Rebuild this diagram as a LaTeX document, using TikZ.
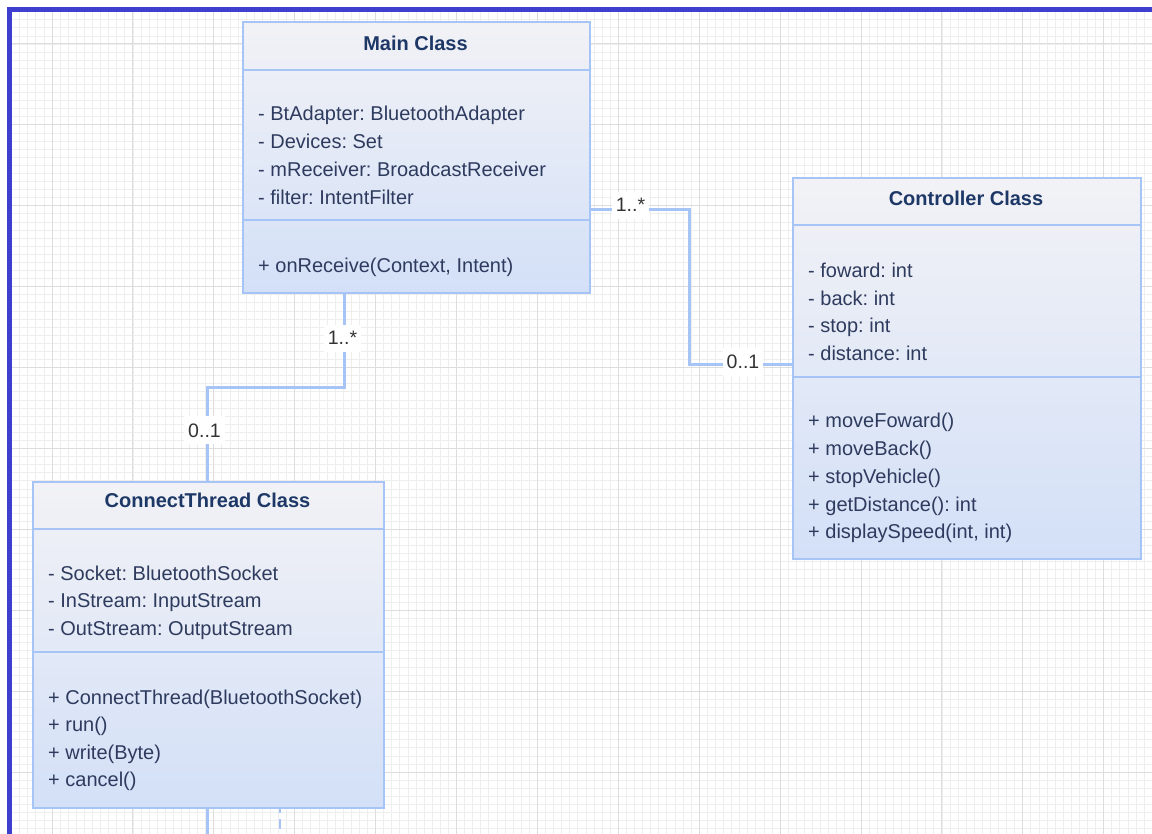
\documentclass[tikz,border=0pt]{standalone}
\usepackage{fontspec}
\setmainfont{Liberation Sans}
\usetikzlibrary{calc}
\frenchspacing

\definecolor{frameblue}{HTML}{3F3FCF}
\definecolor{gridminor}{HTML}{EEEEEE}
\definecolor{gridmajor}{HTML}{DDDDDD}
\definecolor{boxedge}{HTML}{A6C4F6}
\definecolor{boxtop}{HTML}{F2F2F6}
\definecolor{boxbottom}{HTML}{D3E0F7}
\definecolor{titletext}{HTML}{1D3866}
\definecolor{bodytext}{HTML}{2E3B5E}
\definecolor{multtext}{HTML}{333333}

\begin{document}
\begin{tikzpicture}[x=1pt,y=-1pt,
  classbox/.style={draw=boxedge, line width=2.4pt, top color=boxtop, bottom color=boxbottom,
    anchor=north west, inner sep=0pt},
  sepline/.style={draw=boxedge, line width=2.4pt},
  classtitle/.style={anchor=base, text=titletext, inner sep=0pt,
    font=\fontsize{20}{24}\selectfont\bfseries},
  member/.style={anchor=base west, text=bodytext, inner sep=0pt,
    font=\fontsize{20}{24}\selectfont},
  assoc/.style={draw=boxedge, line width=2.8pt},
  mult/.style={anchor=base, fill=white, text=multtext, inner xsep=4pt, inner ysep=7pt,
    font=\fontsize{19.5}{22}\selectfont},
  gridfine/.style={draw=gridminor, line width=0.8pt},
  gridcoarse/.style={draw=gridmajor, line width=1pt}
]
\useasboundingbox (0,0) rectangle (1152,834);
\fill[white] (0,0) rectangle (1152,834);

% background grid
\begin{scope}
  \clip (11,11) rectangle (1152,834);
  \foreach \k in {-5,...,137} \draw[gridfine] ({52+8.09*\k},0) -- ({52+8.09*\k},834);
  \foreach \k in {-5,...,98} \draw[gridfine] (0,{44+8.09*\k}) -- (1152,{44+8.09*\k});
  \foreach \k in {0,...,13} \draw[gridcoarse] ({52+80.9*\k},0) -- ({52+80.9*\k},834);
  \foreach \k in {-1,...,10} \draw[gridcoarse] (0,{44+80.9*\k}) -- (1152,{44+80.9*\k});
\end{scope}

% canvas frame
\draw[frameblue, line width=4.5pt] (1152,9.7) -- (9.7,9.7) -- (9.7,834);

% class boxes
\node[classbox, minimum width=347pt, minimum height=271pt] (main) at (242,21) {};
\node[classbox, minimum width=348pt, minimum height=381pt] (ctrl) at (792,177) {};
\node[classbox, minimum width=351pt, minimum height=326pt] (ct) at (32,481) {};

% associations
\draw[assoc] ([yshift=-51.5pt]main.east) -- ++(98,0) |- ([yshift=4.5pt]ctrl.west);
\draw[assoc] ([xshift=-72.5pt]main.south) -- ++(0,93) -| ([xshift=-1.5pt]ct.north);
\draw[assoc] ([xshift=-1.5pt]ct.south) -- ++(0,30);
\draw[assoc, line width=2pt, dash pattern=on 4pt off 6pt on 12pt off 20pt] ([xshift=71.5pt]ct.south) -- ++(0,20);

% compartment separators
\draw[sepline] ([yshift=-49pt]main.north west) -- ([yshift=-49pt]main.north east);
\draw[sepline] ([yshift=-199pt]main.north west) -- ([yshift=-199pt]main.north east);
\draw[sepline] ([yshift=-48pt]ctrl.north west) -- ([yshift=-48pt]ctrl.north east);
\draw[sepline] ([yshift=-200pt]ctrl.north west) -- ([yshift=-200pt]ctrl.north east);
\draw[sepline] ([yshift=-48pt]ct.north west) -- ([yshift=-48pt]ct.north east);
\draw[sepline] ([yshift=-171pt]ct.north west) -- ([yshift=-171pt]ct.north east);

% Main Class
\node[classtitle] (main-t) at (415.5,51) {Main Class};
\foreach \t [count=\i] in {{- BtAdapter: BluetoothAdapter},{- Devices: Set},
    {- mReceiver: BroadcastReceiver},{- filter: IntentFilter}}
  \node[member] (main-a\i) at (258,{121+27.7*(\i-1)}) {\t};
\node[member] (main-m1) at (258,272.5) {+ onReceive(Context, Intent)};

% Controller Class
\node[classtitle] (ctrl-t) at (966,205.5) {Controller Class};
\foreach \t [count=\i] in {{- foward: int},{- back: int},{- stop: int},{- distance: int}}
  \node[member] (ctrl-a\i) at (808,{277.5+27.7*(\i-1)}) {\t};
\foreach \t [count=\i] in {{+ moveFoward()},{+ moveBack()},{+ stopVehicle()},
    {+ getDistance(): int},{+ displaySpeed(int, int)}}
  \node[member] (ctrl-m\i) at (808,{428+27.7*(\i-1)}) {\t};

% ConnectThread Class
\node[classtitle] (ct-t) at (207.5,507.5) {ConnectThread Class};
\foreach \t [count=\i] in {{- Socket: BluetoothSocket},{- InStream: InputStream},
    {- OutStream: OutputStream}}
  \node[member] (ct-a\i) at (48,{580+27.7*(\i-1)}) {\t};
\foreach \t [count=\i] in {{+ ConnectThread(BluetoothSocket)},{+ run()},{+ write(Byte)},
    {+ cancel()}}
  \node[member] (ct-m\i) at (48,{704.5+27.3*(\i-1)}) {\t};

% multiplicities
\node[mult] (mult-main-ctrl) at (630.5,212) {1..*};
\node[mult] (mult-ctrl) at (743,369) {0..1};
\node[mult] (mult-main-ct) at (342.5,345) {1..*};
\node[mult] (mult-ct) at (204.5,437) {0..1};
\end{tikzpicture}
\end{document}
